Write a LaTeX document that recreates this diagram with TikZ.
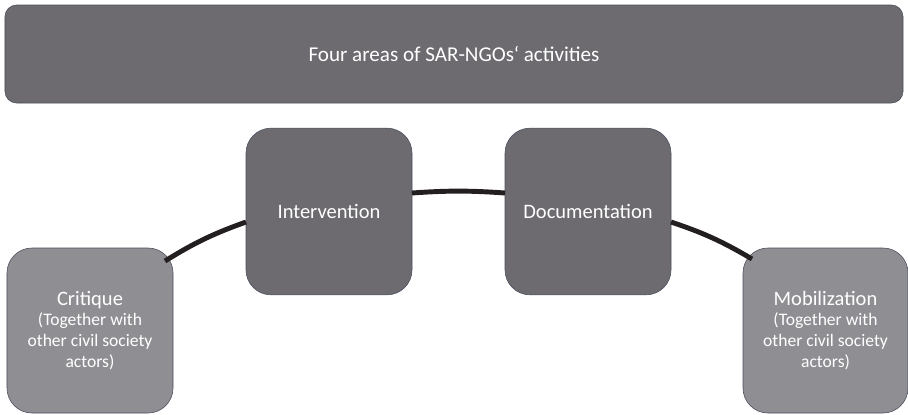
\documentclass[tikz,border=0pt]{standalone}
\usepackage{fontspec}
\setmainfont{Carlito}
\usetikzlibrary{shapes,arrows}
\definecolor{darkbox}{HTML}{6D6B70}
\definecolor{lightbox}{HTML}{8F8E93}
\definecolor{boxline}{HTML}{4A4F5E}
\definecolor{linkline}{HTML}{231F20}
\newcommand{\bigline}{\fontsize{17.5}{18}\selectfont}
\newcommand{\smallline}{\fontsize{15}{17.8}\selectfont}
\begin{document}
\begin{tikzpicture}[x=0.03cm,y=-0.03cm,
  area/.style={draw=boxline,line width=0.5pt,rounded corners=0.75cm,text=white,
    minimum width=4.98cm,minimum height=5cm,inner sep=0pt,align=center},
  link/.style={draw=linkline,line width=4.2pt}]
\useasboundingbox (0,0) rectangle (908,414);
\node[draw=boxline,line width=0.5pt,fill=darkbox,rounded corners=0.35cm,text=white,
  minimum width=26.94cm,minimum height=2.94cm,font=\fontsize{18}{20}\selectfont] (areas) at (454,54) {Four areas of SAR-NGOs‘ activities};
\node[area,fill=darkbox,font=\bigline] (interv) at (329,211.5) {Intervention};
\node[area,fill=darkbox,font=\bigline] (doc) at (588,211.5) {Documentation};
\node[area,fill=lightbox,minimum height=4.95cm,font=\smallline] (crit) at (90,330.5) {{\bigline Critique}\\
  (Together with\\ other civil society\\ actors)};
\node[area,fill=lightbox,minimum width=4.95cm,minimum height=4.95cm,font=\smallline] (mob) at (825.5,330.5) {{\bigline Mobilization}\\
  (Together with\\ other civil society\\ actors)};
% links between the areas
\coordinate (c1) at (165,261);
\coordinate (i1) at (246,222);
\coordinate (i2) at (412,193);
\coordinate (d1) at (505,193);
\coordinate (d2) at (671,222);
\coordinate (m1) at (752,259);
\draw[link] (c1) to[bend left=6] (i1);
\draw[link] (i2) to[bend left=4] (d1);
\draw[link] (d2) to[bend left=6] (m1);
\end{tikzpicture}
\end{document}
